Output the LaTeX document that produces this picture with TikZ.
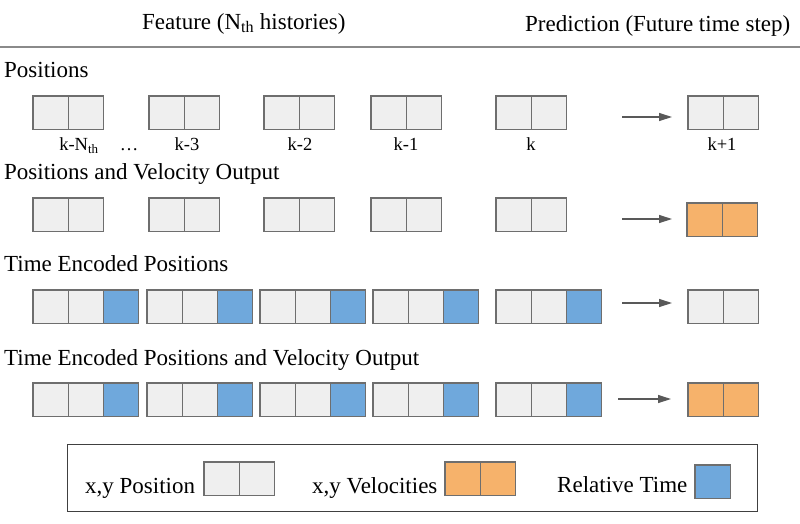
\documentclass[tikz,border=0pt]{standalone}
\usepackage{fontspec}
\setmainfont{Liberation Serif}
\usetikzlibrary{arrows.meta}
\definecolor{cellgray}{HTML}{EFEFEF}
\definecolor{cellorange}{HTML}{F6B26B}
\definecolor{cellblue}{HTML}{6FA8DC}
\definecolor{cellborder}{HTML}{6E6E6E}
\definecolor{arrowgray}{HTML}{595959}
\definecolor{rulegray}{HTML}{8A8A8A}
\begin{document}
\begin{tikzpicture}[x=1pt,y=-1pt,
  cell/.style={draw=cellborder, line width=1.3pt, minimum width=35.2pt, minimum height=33.5pt, inner sep=0pt, outer sep=0pt, anchor=north west},
  poscell/.style={cell, fill=cellgray},
  velcell/.style={cell, fill=cellorange},
  timcell/.style={cell, fill=cellblue},
  headtext/.style={font=\fontsize{23}{27}\selectfont, inner sep=0pt, anchor=base west},
  steplabel/.style={font=\fontsize{18.5}{22}\selectfont, inner sep=0pt, anchor=base},
  flow/.style={draw=arrowgray, line width=1.2pt, -{Triangle[length=13pt,width=8pt]}}
]
\useasboundingbox (0,0) rectangle (800,523);

% headers
\node[headtext] (hfeat) at (142,29) {Feature (N\textsubscript{th} histories)};
\node[headtext] (hpred) at (525,31) {Prediction (Future time step)};
\draw[rulegray, line width=1.6pt] (0,47) -- (800,47);

% section titles
\node[headtext] (t1) at (4,77) {Positions};
\node[headtext] (t2) at (4,179) {Positions and Velocity Output};
\node[headtext] (t3) at (4,271) {Time Encoded Positions};
\node[headtext] (t4) at (4,365) {Time Encoded Positions and Velocity Output};

% row 1
\foreach \x [count=\i] in {33,149,264,371,496} {
  \node[poscell] (r1g\i a) at (\x,96) {};
  \node[poscell] (r1g\i b) at (r1g\i a.north east) {};
}
\node[poscell] (r1pa) at (688,96) {};
\node[poscell] (r1pb) at (r1pa.north east) {};
\coordinate (r1s) at (622,117);
\coordinate (r1e) at (672,117);
\draw[flow] (r1s) -- (r1e);

% step labels
\node[steplabel] (lk0) at (79,150) {k-N\textsubscript{th}};
\node[steplabel] (ldots) at (129,150) {…};
\node[steplabel] (lk3) at (187,150) {k-3};
\node[steplabel] (lk2) at (300,150) {k-2};
\node[steplabel] (lk1) at (406,150) {k-1};
\node[steplabel] (lk) at (531,150) {k};
\node[steplabel] (lkp) at (722,150) {k+1};

% row 2
\foreach \x [count=\i] in {33,149,264,371,496} {
  \node[poscell] (r2g\i a) at (\x,198) {};
  \node[poscell] (r2g\i b) at (r2g\i a.north east) {};
}
\node[velcell] (r2pa) at (687,203) {};
\node[velcell] (r2pb) at (r2pa.north east) {};
\coordinate (r2s) at (622,219);
\coordinate (r2e) at (672,219);
\draw[flow] (r2s) -- (r2e);

% row 3
\foreach \x [count=\i] in {33,147,260,373,496} {
  \node[poscell] (r3g\i a) at (\x,290) {};
  \node[poscell] (r3g\i b) at (r3g\i a.north east) {};
  \node[timcell] (r3g\i c) at (r3g\i b.north east) {};
}
\node[poscell] (r3pa) at (688,290) {};
\node[poscell] (r3pb) at (r3pa.north east) {};
\coordinate (r3s) at (622,303);
\coordinate (r3e) at (672,303);
\draw[flow] (r3s) -- (r3e);

% row 4
\foreach \x [count=\i] in {33,147,260,373,496} {
  \node[poscell] (r4g\i a) at (\x,383) {};
  \node[poscell] (r4g\i b) at (r4g\i a.north east) {};
  \node[timcell] (r4g\i c) at (r4g\i b.north east) {};
}
\node[velcell] (r4pa) at (688,383) {};
\node[velcell] (r4pb) at (r4pa.north east) {};
\coordinate (r4s) at (618,399);
\coordinate (r4e) at (671,399);
\draw[flow] (r4s) -- (r4e);

% legend
\node[draw=black!75, line width=1.3pt, minimum width=690pt, minimum height=67pt, inner sep=0pt, anchor=north west] (legend) at (67,444) {};
\node[headtext] (lgpos) at (85,493) {x,y Position};
\node[poscell] (lgpa) at (204,462) {};
\node[poscell] (lgpb) at (lgpa.north east) {};
\node[headtext] (lgvel) at (312,493) {x,y Velocities};
\node[velcell] (lgva) at (445,462) {};
\node[velcell] (lgvb) at (lgva.north east) {};
\node[headtext] (lgtim) at (557,492) {Relative Time};
\node[timcell] (lgt) at (695,465) {};
\end{tikzpicture}
\end{document}
